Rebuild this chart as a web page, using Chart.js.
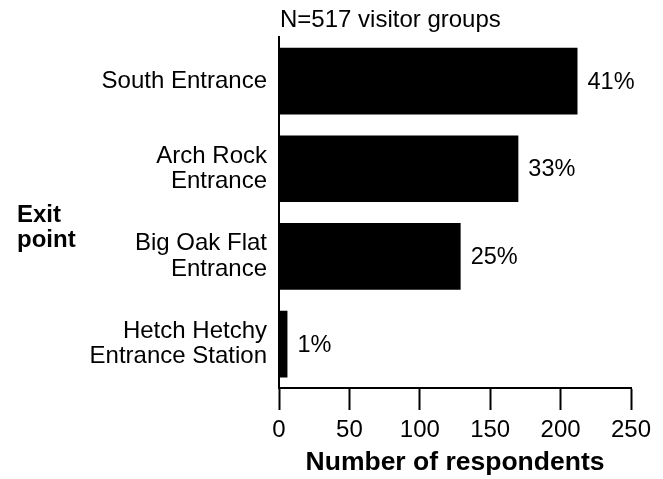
<!DOCTYPE html>
<html>
<head>
<meta charset="utf-8">
<script src="https://cdn.jsdelivr.net/npm/chart.js@4"></script>
<style>
  html, body { margin: 0; padding: 0; background: #fff; }
  #wrap { width: 663px; height: 479px; }
</style>
</head>
<body>
<div id="wrap"><canvas id="c" width="663" height="479"></canvas></div>
<script>
const categories = [
  'South Entrance',
  ['Arch Rock', 'Entrance'],
  ['Big Oak Flat', 'Entrance'],
  ['Hetch Hetchy', 'Entrance Station']
];
const respondents = [212, 170, 129, 6];
const percentLabels = ['41%', '33%', '25%', '1%'];
const xTicks = [0, 50, 100, 150, 200, 250];
const noteText = 'N=517 visitor groups';
const yTitleLines = ['Exit', 'point'];
const xTitle = 'Number of respondents';

const FONT = '"Liberation Sans", Arial, Helvetica, sans-serif';

const annotations = {
  id: 'annotations',
  afterDatasetsDraw(chart) {
    const ctx = chart.ctx;
    const area = chart.chartArea;
    ctx.save();
    ctx.fillStyle = '#000';
    ctx.font = '23.5px ' + FONT;
    ctx.textAlign = 'left';
    ctx.textBaseline = 'middle';
    const meta = chart.getDatasetMeta(0);
    meta.data.forEach((bar, i) => {
      ctx.fillText(percentLabels[i], bar.x + 10, bar.y + 1);
    });
    ctx.font = '24px ' + FONT;
    ctx.fillText(noteText, area.left + 1, 20);
    ctx.font = 'bold 24px ' + FONT;
    ctx.textBaseline = 'alphabetic';
    ctx.fillText(yTitleLines[0], 17, 222);
    ctx.fillText(yTitleLines[1], 17, 247);
    ctx.restore();
  }
};

new Chart(document.getElementById('c'), {
  type: 'bar',
  data: {
    labels: categories,
    datasets: [{
      data: respondents,
      backgroundColor: '#000',
      borderWidth: 0,
      barPercentage: 0.76,
      categoryPercentage: 1.0
    }]
  },
  options: {
    indexAxis: 'y',
    responsive: false,
    animation: false,
    devicePixelRatio: 1,
    layout: { padding: { top: 37, right: 32, bottom: 0, left: 0 } },
    plugins: {
      legend: { display: false },
      tooltip: { enabled: false },
      title: { display: false }
    },
    scales: {
      x: {
        type: 'linear',
        min: 0,
        max: 250,
        afterBuildTicks(scale) { scale.ticks = xTicks.map(v => ({ value: v })); },
        afterFit(scale) { scale.height = 91; },
        grid: {
          display: true,
          drawOnChartArea: false,
          drawTicks: true,
          tickLength: 22,
          tickWidth: 2,
          tickColor: '#000'
        },
        border: { display: true, color: '#000', width: 2 },
        ticks: {
          color: '#000',
          font: { family: FONT, size: 24 },
          padding: 6,
          maxRotation: 0
        },
        title: {
          display: true,
          text: xTitle,
          color: '#000',
          font: { family: FONT, size: 26.5, weight: 'bold' },
          padding: { top: 0, bottom: 0 }
        }
      },
      y: {
        type: 'category',
        afterFit(scale) { scale.width = 279; },
        grid: {
          display: true,
          drawOnChartArea: false,
          drawTicks: false,
          tickLength: 0
        },
        border: { display: true, color: '#000', width: 2 },
        ticks: {
          color: '#000',
          font: { family: FONT, size: 24, lineHeight: 1.05 },
          padding: 12
        }
      }
    }
  },
  plugins: [annotations]
});
</script>
</body>
</html>
